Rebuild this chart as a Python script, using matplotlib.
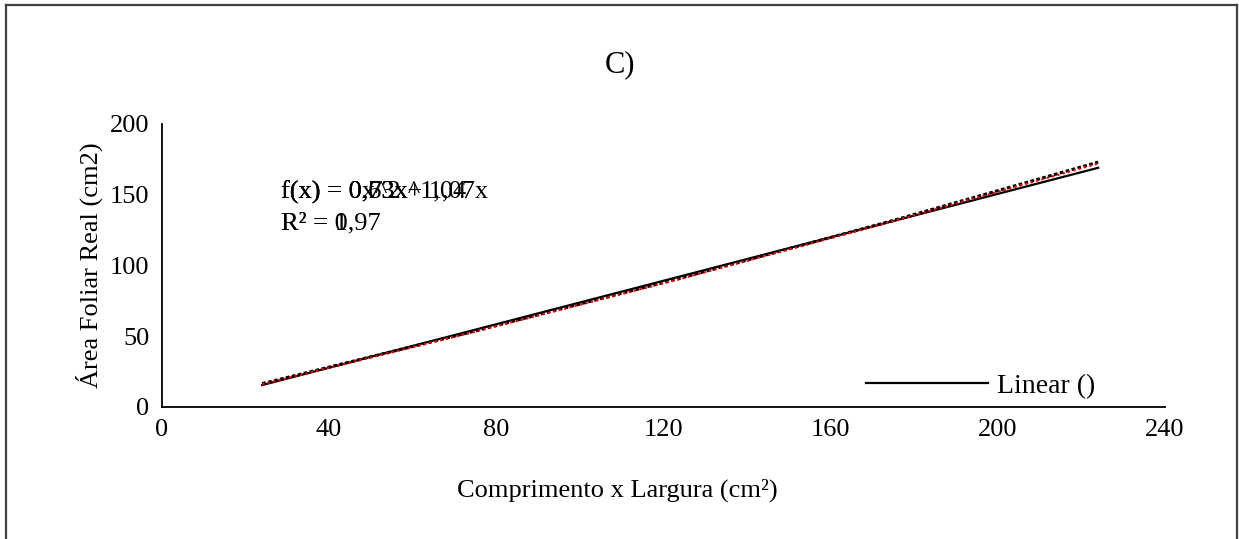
import matplotlib.pyplot as plt
from matplotlib.lines import Line2D

plt.rcParams['font.family'] = ['Liberation Serif', 'DejaVu Serif']

# trend lines
x_lin = [24, 224]
y_lin = [15.5, 169]
x_curve = [24, 74, 124, 174, 224]
y_pow = [16.5, 53, 91, 131, 173]
y_poly = [16, 52.5, 90.5, 130.5, 172]

eq_texts = ['f(x) = 0,63x^1,04', 'f(x) = 0x^2 + 1,07x', 'f(x) = 0,73x']
r2_texts = ['R² = 1', 'R² = 0,97']

xticks = [0, 40, 80, 120, 160, 200, 240]
yticks = [0, 50, 100, 150, 200]

fs = 19

fig = plt.figure(figsize=(12.39, 5.39), dpi=100)
ax = fig.add_axes([0.1307, 0.2449, 0.8096, 0.5252])

ax.plot(x_lin, y_lin, color='black', lw=1.6, label='Linear ()')
ax.plot(x_curve, y_pow, color='black', lw=2.2, ls=(0, (1.2, 0.8)))
ax.plot(x_curve, y_poly, color='red', lw=1.6, ls=(0, (1, 1.5)))

ax.set_xlim(0, 240)
ax.set_ylim(0, 200)
ax.set_xticks(xticks)
ax.set_yticks(yticks)
ax.tick_params(length=0, labelsize=fs, pad=9)
for s in ['top', 'right']:
    ax.spines[s].set_visible(False)
for s in ['left', 'bottom']:
    ax.spines[s].set_linewidth(1.3)

fig.text(617/1239, 1 - 490/539, 'Comprimento x Largura (cm²)', fontsize=fs,
         ha='center', va='center')
ax.set_ylabel('Área Foliar Real (cm2)', fontsize=fs, labelpad=5)
fig.text(0.5, 1 - 65/539, 'C)', fontsize=22, ha='center', va='center')

for t in eq_texts:
    ax.text(28.5, 152, t, fontsize=fs, va='center')
for t in r2_texts:
    ax.text(28.5, 129.5, t, fontsize=fs, va='center')

ax.legend(loc='lower right', frameon=False, fontsize=20, handlelength=4.4,
          handletextpad=0.3, bbox_to_anchor=(0.955, -0.06))

# outer frame
fc = '#404040'
fig.add_artist(Line2D([6/1239, 6/1239], [0, 1 - 5/539], color=fc, lw=1.6, transform=fig.transFigure))
fig.add_artist(Line2D([6/1239, 1237/1239], [1 - 5/539, 1 - 5/539], color=fc, lw=1.6, transform=fig.transFigure))
fig.add_artist(Line2D([1237/1239, 1237/1239], [0, 1 - 5/539], color=fc, lw=1.6, transform=fig.transFigure))

fig.savefig('out.png', dpi=100)
